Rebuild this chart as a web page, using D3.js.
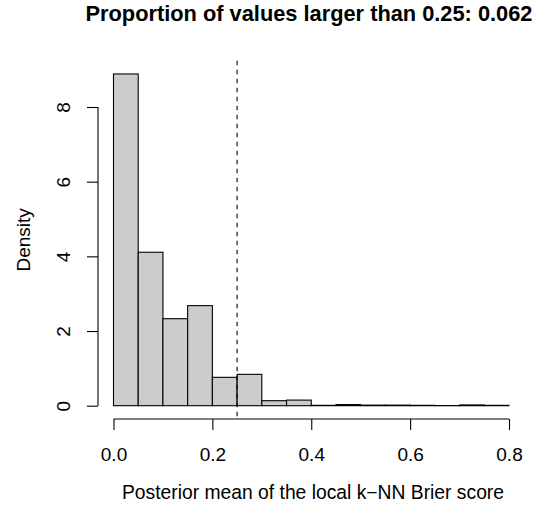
<!DOCTYPE html>
<html>
<head>
<meta charset="utf-8">
<script src="https://cdn.jsdelivr.net/npm/d3@7"></script>
<style>
  body { margin: 0; background: #fff; }
  text { font-family: "Liberation Sans", Arial, sans-serif; fill: #000; }
</style>
</head>
<body>
<div id="canvas"></div>
<script>
var width = 538,
	height = 513;

// histogram bins (left edges), bin width and densities
var binStarts = [0, 0.05, 0.1, 0.15, 0.2, 0.25, 0.3, 0.35, 0.4, 0.45, 0.5, 0.55, 0.6, 0.65, 0.7, 0.75];
var binWidth = 0.05;
var densities = [8.885, 4.11, 2.33, 2.68, 0.76, 0.84, 0.134, 0.15, 0.01, 0.03, 0.015, 0.015, 0.01, 0.004, 0.02, 0.01];

var xTicks = [0, 0.2, 0.4, 0.6, 0.8];
var yTicks = [0, 2, 4, 6, 8];
var cutoff = 0.25;

var title = "Proportion of values larger than 0.25: 0.062";
var xLabel = "Posterior mean of the local k\u2212NN Brier score";
var yLabel = "Density";

var x = d3.scaleLinear().domain([0, 0.8]).range([113.5, 509]);
var y = d3.scaleLinear().domain([0, 8]).range([405.7, 107]);

// plot region like R's usr (4% extension)
var plotTop = y(8.885 * 1.04),
	plotBottom = 419;

var svg = d3.select("#canvas")
	.append("svg")
		.attr("width", width)
		.attr("height", height)

var bins = binStarts.map(function(d, i){
	return { x0: d, x1: d + binWidth, density: densities[i] };
});

svg.selectAll(".bar")
	.data(bins)
	.enter()
	.append("rect")
		.classed("bar", true)
		.attr("x", function(d){ return x(d.x0); })
		.attr("width", function(d){ return x(d.x1) - x(d.x0); })
		.attr("y", function(d){ return y(d.density); })
		.attr("height", function(d){ return y(0) - y(d.density); })
		.attr("fill", "#cccccc")
		.attr("stroke", "#000")
		.attr("stroke-width", 1.1)

// dashed cutoff line
svg.append("line")
	.attr("x1", x(cutoff))
	.attr("x2", x(cutoff))
	.attr("y1", plotTop)
	.attr("y2", plotBottom)
	.attr("stroke", "#000")
	.attr("stroke-width", 1.1)
	.attr("stroke-dasharray", "4.5,4.5")

// x axis
var xAxis = svg.append("g")
	.attr("transform", "translate(0," + plotBottom + ")")
	.call(d3.axisBottom(x).tickValues(xTicks).tickSize(11).tickPadding(0).tickFormat(d3.format(".1f")));
xAxis.selectAll("path, line").attr("stroke", "#000").attr("stroke-width", 1.1);
xAxis.select(".domain").attr("d", "M" + x(0) + ",0H" + x(0.8));
xAxis.selectAll("text")
	.attr("y", 42)
	.attr("dy", null)
	.style("font-size", "19px")
	.style("font-family", "Liberation Sans, Arial, sans-serif")
	.attr("fill", "#000");

// y axis
var yAxis = svg.append("g")
	.attr("transform", "translate(98,0)")
	.call(d3.axisLeft(y).tickValues(yTicks).tickSize(11).tickFormat(d3.format("d")));
yAxis.selectAll("path, line").attr("stroke", "#000").attr("stroke-width", 1.1);
yAxis.select(".domain").attr("d", "M0," + y(0) + "V" + y(8));
yAxis.selectAll("text")
	.attr("x", null)
	.attr("dy", null)
	.attr("text-anchor", "middle")
	.attr("transform", "translate(-28,0) rotate(-90)")
	.style("font-size", "19px")
	.style("font-family", "Liberation Sans, Arial, sans-serif")
	.attr("fill", "#000");

// titles
svg.append("text")
	.attr("x", 309)
	.attr("y", 21)
	.attr("text-anchor", "middle")
	.style("font-size", "21.8px")
	.style("font-weight", "bold")
	.text(title)

svg.append("text")
	.attr("x", 313)
	.attr("y", 499)
	.attr("text-anchor", "middle")
	.style("font-size", "19.3px")
	.text(xLabel)

svg.append("text")
	.attr("transform", "translate(30," + ((plotTop + plotBottom) / 2) + ") rotate(-90)")
	.attr("text-anchor", "middle")
	.style("font-size", "19px")
	.text(yLabel)
</script>
</body>
</html>
